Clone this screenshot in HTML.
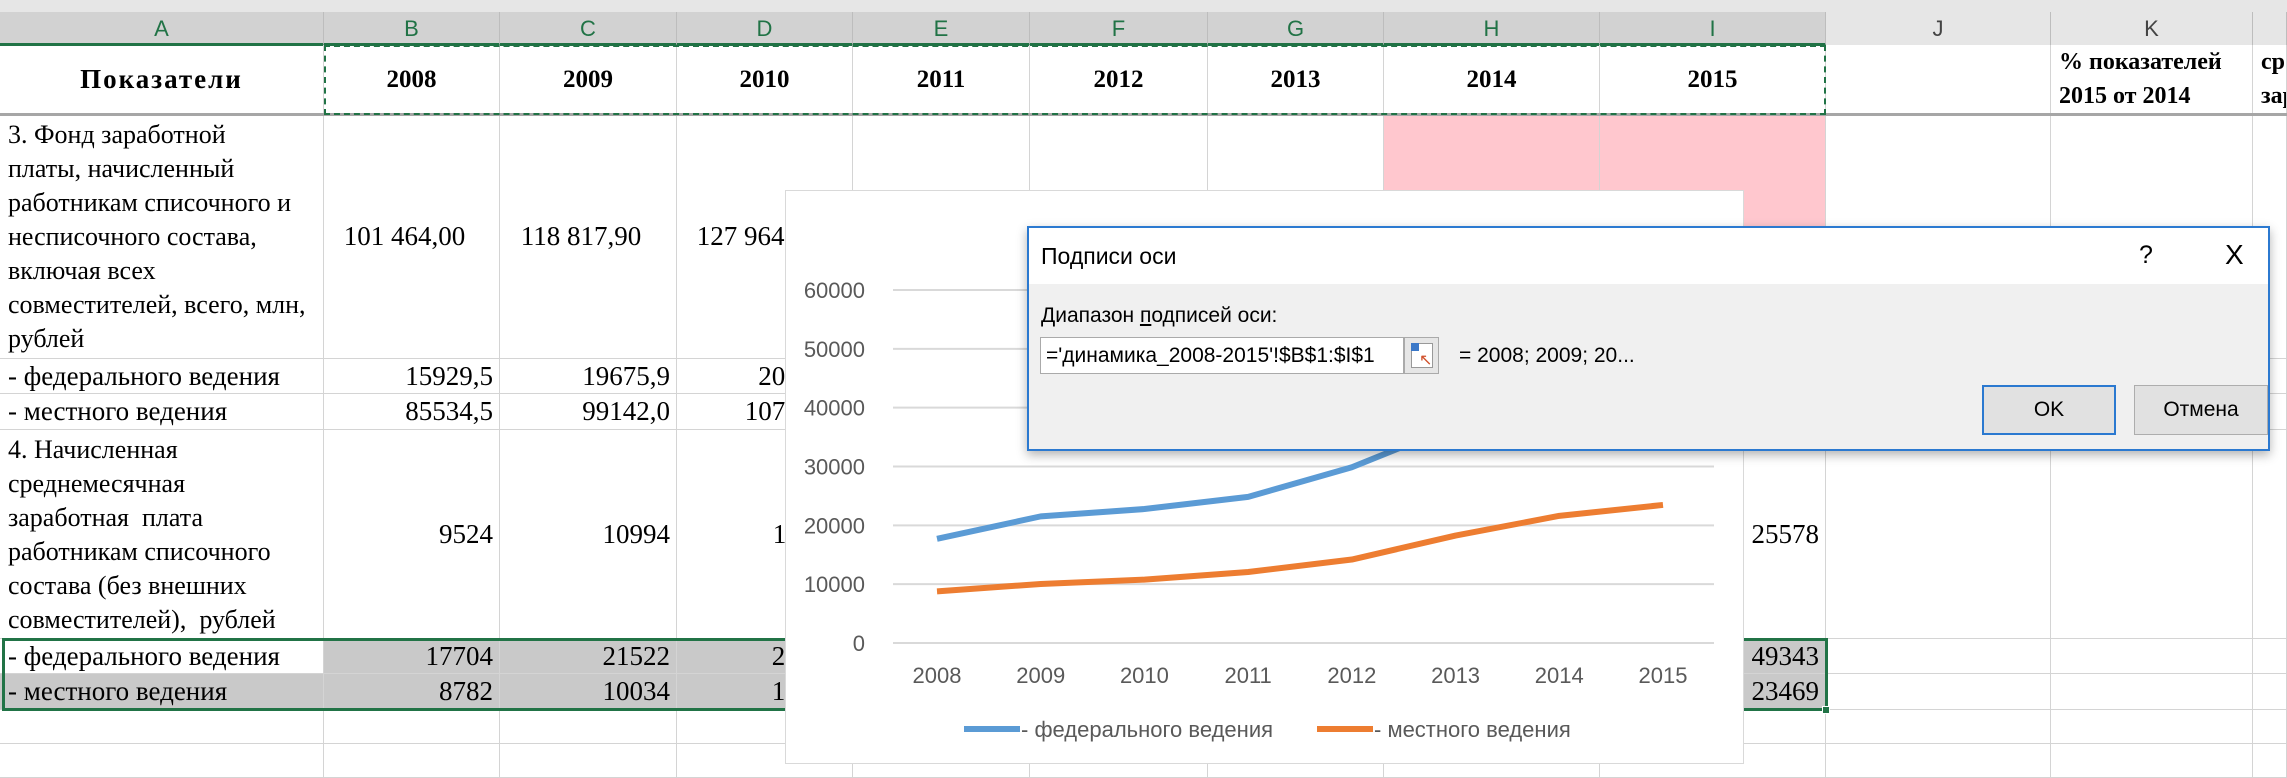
<!DOCTYPE html>
<html><head><meta charset="utf-8">
<style>
html,body{margin:0;padding:0;}
body{width:2287px;height:778px;position:relative;overflow:hidden;background:#fff;font-family:"Liberation Serif",serif;}
.abs{position:absolute;box-sizing:border-box;}
.ch{position:absolute;top:12px;height:33px;font-family:"Liberation Sans",sans-serif;font-size:22px;text-align:center;line-height:33px;border-right:1px solid #bdbdbd;box-sizing:border-box;}
.c{position:absolute;box-sizing:border-box;border-right:1px solid #d4d4d4;border-bottom:1px solid #d4d4d4;font-size:26px;color:#000;white-space:nowrap;overflow:visible;}
.r{text-align:right;padding-right:6px;}
.t{padding-left:8px;}
.dlg{font-family:"Liberation Sans",sans-serif;}
</style></head><body>
<div class="abs" style="left:0;top:0;width:2287px;height:45px;background:#e6e6e6;"></div>
<div id="hdrs"></div>
<div id="grid"></div>
<div class="abs" style="left:0;top:113px;width:2287px;height:3px;background:#a6a6a6;"></div>
<div class="abs" style="left:324px;top:45px;width:1502px;height:70px;border:2px dashed #217346;"></div>
<div class="abs" style="left:2px;top:638px;width:1826px;height:73px;border:3px solid #217346;"></div>
<div class="abs" style="left:1822px;top:706px;width:8px;height:8px;background:#217346;border:1px solid #fff;"></div>

<svg class="abs" id="chart" style="left:785px;top:190px;" width="959" height="574"></svg>

<div class="abs dlg" style="left:1027px;top:226px;width:1243px;height:225px;background:#f0f0f0;border:2px solid #2b79d0;box-shadow:0 4px 10px rgba(0,0,0,0.3);">
  <div class="abs" style="left:0;top:0;width:1239px;height:56px;background:#fff;"></div>
  <div class="abs" style="left:12px;top:15px;font-size:23px;color:#000;">Подписи оси</div>
  <div class="abs" style="left:1110px;top:13px;font-size:25px;color:#000;">?</div>
  <div class="abs" style="left:1196px;top:11px;font-size:28px;font-weight:300;color:#000;">X</div>
  <div class="abs" style="left:12px;top:76px;font-size:21px;color:#000;">Диапазон <u>п</u>одписей оси:</div>
  <div class="abs" style="left:11px;top:109px;width:364px;height:37px;background:#fff;border:1px solid #aaa;font-size:21px;line-height:35px;padding-left:5px;">='динамика_2008-2015'!$B$1:$I$1</div>
  <div class="abs" style="left:375px;top:109px;width:35px;height:37px;background:#e6e6e6;border:1px solid #aaa;">
    <div class="abs" style="left:6px;top:5px;width:22px;height:25px;border:1px solid #999;background:#fff;"></div>
    <div class="abs" style="left:6px;top:5px;width:8px;height:8px;background:#3b78c8;"></div>
    <div class="abs" style="left:14px;top:12px;color:#d0502a;font-size:16px;">↖</div>
  </div>
  <div class="abs" style="left:430px;top:116px;font-size:21px;color:#000;">= 2008; 2009; 20...</div>
  <div class="abs" style="left:953px;top:157px;width:134px;height:50px;background:#e1e1e1;border:2px solid #2b79d0;font-size:21px;text-align:center;line-height:46px;">OK</div>
  <div class="abs" style="left:1105px;top:157px;width:134px;height:50px;background:#e1e1e1;border:1px solid #adadad;font-size:21px;text-align:center;line-height:48px;">Отмена</div>
</div>

<script>
const colX=[0,324,500,677,853,1030,1208,1384,1600,1826,2051,2253,2287];
const colL=['A','B','C','D','E','F','G','H','I','J','K',''];
const hd=document.getElementById('hdrs');
for(let i=0;i<colL.length;i++){
  const d=document.createElement('div');
  d.className='ch';
  
  
  const sel=i<=8;
  d.style.left=colX[i]+'px';d.style.width=(colX[i+1]-colX[i])+'px';
  d.style.background=sel?'#d2d2d2':'#e6e6e6';
  d.style.color=sel?'#217346':'#444';
  if(sel){d.style.borderBottom='3px solid #217346';d.style.height='34px';}
  d.textContent=colL[i];
  hd.appendChild(d);
}
const rowY=[45,115,359,394,430,639,674,710,744,778];
const g=document.getElementById('grid');
function cell(ci,ri,html,cls,name,extra){
  const d=document.createElement('div');
  d.className='c '+(cls||'');
  
  
  d.style.left=colX[ci]+'px';d.style.top=rowY[ri]+'px';
  d.style.width=(colX[ci+1]-colX[ci])+'px';d.style.height=(rowY[ri+1]-rowY[ri])+'px';
  if(extra)Object.assign(d.style,extra);
  d.innerHTML=html||'';
  g.appendChild(d);return d;
}
for(let r=0;r<9;r++)for(let c=0;c<12;c++){
  const ex={};
  if(r==1&&(c==7||c==8))ex.background='#ffc7ce';
  if((r==5||r==6)&&c<=8&&!(r==5&&c==0))ex.background='#c9c9c9';
  cell(c,r,'','', 'cell-'+(colL[c]||'l').toLowerCase()+(r+1),ex);
}
function vc(){return {display:'flex',alignItems:'center',justifyContent:'flex-end',background:'transparent',borderColor:'transparent'};}
const years=['2008','2009','2010','2011','2012','2013','2014','2015'];
const hb={display:'flex',alignItems:'center',justifyContent:'center',fontWeight:'bold',borderColor:'transparent',background:'transparent',fontSize:'25px'};
cell(0,0,'Показатели','','header-indicators',Object.assign({},hb,{letterSpacing:'2px',fontSize:'27px'}));
years.forEach((y,i)=>cell(i+1,0,y,'','header-year-'+y,hb));
cell(10,0,'% показателей<br>2015 от 2014','t','header-percent',{fontWeight:'bold',fontSize:'24px',lineHeight:'34px',borderColor:'transparent',background:'transparent'});
cell(11,0,'ср<br>зар','t','header-average',{fontWeight:'bold',fontSize:'24px',lineHeight:'34px',borderColor:'transparent',background:'transparent',overflow:'hidden'});
const tb={lineHeight:'34px',paddingTop:'3px',borderColor:'transparent',background:'transparent',whiteSpace:'nowrap'};
cell(0,1,'3. Фонд заработной<br>платы, начисленный<br>работникам списочного и<br>несписочного состава,<br>включая всех<br>совместителей, всего, млн,<br>рублей','t','label-wage-fund',tb);
cell(0,4,'4. Начисленная<br>среднемесячная<br>заработная&nbsp; плата<br>работникам списочного<br>состава (без внешних<br>совместителей),&nbsp; рублей','t','label-average-wage',tb);
const lb={display:'flex',alignItems:'center',borderColor:'transparent',background:'transparent',fontSize:'27px'};
cell(0,2,'- федерального ведения','t','label-federal-fund',lb);
cell(0,3,'- местного ведения','t','label-local-fund',lb);
cell(0,5,'- федерального ведения','t','label-federal-wage',lb);
cell(0,6,'- местного ведения','t','label-local-wage',lb);
const rows={2:['15929,5','19675,9','20514,2'],3:['85534,5','99142,0','107450,3'],
 4:['9524','10994','11 820'],5:['17704','21522','22 770'],6:['8782','10034','10 770']};
['101 464,00','118 817,90','127 964,00'].forEach((v,i)=>cell(i+1,1,v,'','value-'+colL[i+1].toLowerCase()+'2',{display:'flex',alignItems:'center',justifyContent:'center',paddingRight:'14px',background:'transparent',borderColor:'transparent',fontSize:'27px'}));
for(const r in rows){rows[r].forEach((v,i)=>{const d=cell(i+1,+r,v,'r','value-'+colL[i+1].toLowerCase()+(+r+1),vc());d.style.fontSize='27px';});}
cell(8,4,'25578','r','value-i5',Object.assign(vc(),{fontSize:'27px'}));
cell(8,5,'49343','r','value-i6',Object.assign(vc(),{fontSize:'27px'}));
cell(8,6,'23469','r','value-i7',Object.assign(vc(),{fontSize:'27px'}));
</script>
<script>
// ---- chart data ----
const categories=['2008','2009','2010','2011','2012','2013','2014','2015'];
const federal=[17704,21522,22770,24840,29870,37000,45000,49343];
const local=[8782,10034,10770,12065,14190,18260,21610,23469];
const yTicks=[0,10000,20000,30000,40000,50000,60000];
const seriesNames=['- федерального ведения','- местного ведения'];
const seriesColors=['#5b9bd5','#ed7d31'];

const NS='http://www.w3.org/2000/svg';
const svg=document.getElementById('chart');
const W=959,H=574;
const plotL=108,plotR=929,y0=453,y60=100;
function yScale(v){return y0-(v/60000)*(y0-y60);}
function xScale(i){return 152+i*(878-152)/(categories.length-1);}
function mk(t,a){const e=document.createElementNS(NS,t);for(const k in a)e.setAttribute(k,a[k]);svg.appendChild(e);return e;}
const bg=mk('rect',{x:0.5,y:0.5,width:W-1,height:H-1,fill:'#fff',stroke:'#d9d9d9'});


yTicks.forEach(v=>{
  const l=mk('line',{x1:plotL,x2:plotR,y1:yScale(v),y2:yScale(v),stroke:'#d9d9d9','stroke-width':2});
  
  
  const t=mk('text',{x:80,y:yScale(v)+8,'text-anchor':'end','font-family':'Liberation Sans, sans-serif','font-size':22,fill:'#595959'});
  t.textContent=v;
  
  
});
categories.forEach((c,i)=>{
  const t=mk('text',{x:xScale(i),y:yScale(0)+40,'text-anchor':'middle','font-family':'Liberation Sans, sans-serif','font-size':22,fill:'#595959'});
  t.textContent=c;
  
  
});
[federal,local].forEach((s,k)=>{
  const p=mk('polyline',{points:s.map((v,i)=>xScale(i)+','+yScale(v)).join(' '),fill:'none',stroke:seriesColors[k],'stroke-width':6,'stroke-linejoin':'round'});
  
  
});
const legX=[179,532];
seriesNames.forEach((n,k)=>{
  const l=mk('line',{x1:legX[k],x2:legX[k]+56,y1:539,y2:539,stroke:seriesColors[k],'stroke-width':6});
  
  
  const t=mk('text',{x:legX[k]+57,y:547,'font-family':'Liberation Sans, sans-serif','font-size':22,fill:'#595959'});
  t.textContent=n;
  
  
});
</script>
</body></html>
